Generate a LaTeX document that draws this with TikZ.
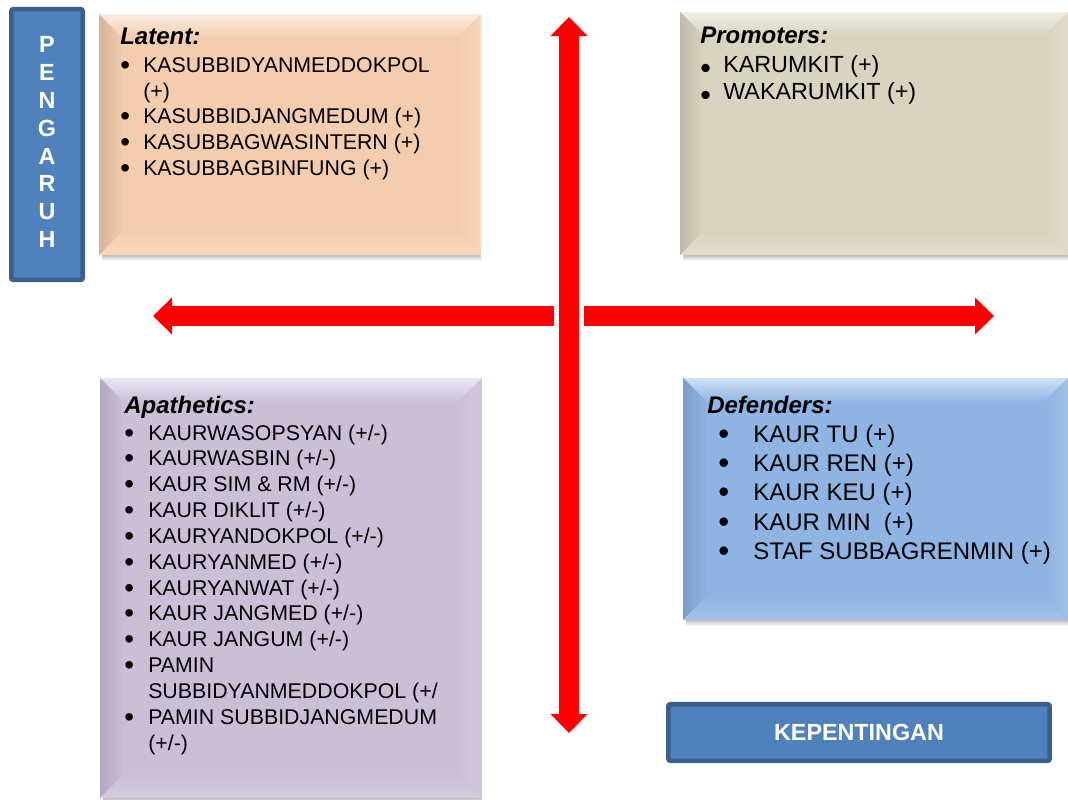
\documentclass[tikz,border=0pt]{standalone}
\usepackage{fontspec}
\usepackage{graphicx}
\setmainfont{Liberation Sans}
\usetikzlibrary{arrows.meta}
\definecolor{hdrblue}{HTML}{4F81BD}
\definecolor{hdrline}{HTML}{3A5F8B}
\definecolor{latentc}{HTML}{F4CDAE}
\definecolor{promoc}{HTML}{D9D4BF}
\definecolor{apathc}{HTML}{CBBFD8}
\definecolor{defendc}{HTML}{8EB4E3}
\def\bev{24}
% bevelled quadrant box: name, x1, y1, x2, y2, colour
\newcommand{\bevelbox}[6]{%
  \shade[top color=black!25,bottom color=white](#2+3,#5)rectangle(#4,#5+6);
  \fill[#6](#2,#3)rectangle(#4,#5);
  \shade[top color=#6!40!white,bottom color=#6](#2,#3)--(#4,#3)--(#4-\bev,#3+\bev)--(#2+\bev,#3+\bev)--cycle;
  \shade[left color=#6!88!black,right color=#6](#2,#3)--(#2+\bev,#3+\bev)--(#2+\bev,#5-\bev)--(#2,#5)--cycle;
  \shade[top color=#6,bottom color=#6!80!white](#2,#5)--(#2+\bev,#5-\bev)--(#4-\bev,#5-\bev)--(#4,#5)--cycle;
  \shade[left color=#6,right color=#6!85!white](#4,#3)--(#4-\bev,#3+\bev)--(#4-\bev,#5-\bev)--(#4,#5)--cycle;
  \coordinate(#1)at(#2,#3);
}
\newcommand{\ttl}[1]{{\fontsize{18}{20}\selectfont\bfseries\itshape #1}}
\newcommand{\bul}{\raisebox{-1.5pt}{\scalebox{1.3}{\textbullet}}}
\newcommand{\itm}[2][0pt]{\hspace*{#1}\makebox[#2][l]{\bul}}
\newcommand{\pitm}{\makebox[17.25pt][l]{\raisebox{-3pt}{\bul}}}
\tikzset{
  bigtip/.tip={Triangle[length=14.25pt,width=27pt]},
  redarrow/.style={draw=red,line width=15pt},
  sidebox/.style={draw=hdrline,fill=hdrblue,line width=3.4pt,rounded corners=1.5pt,
    text=white,inner sep=0pt,font=\fontsize{17.5}{20.9}\selectfont\bfseries},
  listtxt/.style={anchor=base west,inner sep=0pt,font=\fontsize{16}{19.2}\selectfont}
}
\begin{document}
\begin{tikzpicture}[x=0.75pt,y=-0.75pt]
\useasboundingbox(0,0)rectangle(1068,800);
\clip(0,0)rectangle(1068,800);
% quadrants
\bevelbox{latent}{99}{14}{481}{255}{latentc}
\bevelbox{promo}{680}{12}{1068}{255}{promoc}
\bevelbox{apath}{100}{378}{482}{798}{apathc}
\bevelbox{defend}{683}{378}{1068}{620}{defendc}
% axes
\coordinate(vtop)at(569,17);
\coordinate(vbot)at(569,733);
\coordinate(lend)at(554,316);
\coordinate(ltip)at(153,316);
\coordinate(rend)at(584,316);
\coordinate(rtip)at(994,316);
\draw[redarrow,bigtip-bigtip](vtop)--(vbot);
\draw[redarrow,-bigtip](lend)--(ltip);
\draw[redarrow,-bigtip](rend)--(rtip);
% axis labels
\node[sidebox,minimum width=53.6pt,minimum height=203pt](pengaruh)at(47,144.5)
  {\begin{tabular}{@{}c@{}}P\\E\\N\\G\\A\\R\\U\\H\end{tabular}};
\node[sidebox,minimum width=286pt,minimum height=42.4pt](kepentingan)at(859,732.5){KEPENTINGAN};
% lists
\node[listtxt](latenttxt)at(120,44){\begin{tabular}[t]{@{}l@{}}
  \ttl{Latent:}\\[2.3pt]
  \itm{17.25pt}KASUBBIDYANMEDDOKPOL\\
  \hspace*{17.25pt}(+)\\
  \itm{17.25pt}KASUBBIDJANGMEDUM (+)\\
  \itm{17.25pt}KASUBBAGWASINTERN (+)\\
  \itm{17.25pt}KASUBBAGBINFUNG (+)
\end{tabular}};
\node[listtxt,font=\fontsize{17.5}{20.6}\selectfont](promotxt)at(700,43.5){\begin{tabular}[t]{@{}l@{}}
  \ttl{Promoters:}\\[1.1pt]
  \pitm KARUMKIT (+)\\
  \pitm WAKARUMKIT (+)
\end{tabular}};
\node[listtxt,font=\fontsize{16}{19.375}\selectfont](apathtxt)at(124,413){\begin{tabular}[t]{@{}l@{}}
  \ttl{Apathetics:}\\[0.9pt]
  \itm{18pt}KAURWASOPSYAN (+/-)\\
  \itm{18pt}KAURWASBIN (+/-)\\
  \itm{18pt}KAUR SIM \& RM (+/-)\\
  \itm{18pt}KAUR DIKLIT (+/-)\\
  \itm{18pt}KAURYANDOKPOL (+/-)\\
  \itm{18pt}KAURYANMED (+/-)\\
  \itm{18pt}KAURYANWAT (+/-)\\
  \itm{18pt}KAUR JANGMED (+/-)\\
  \itm{18pt}KAUR JANGUM (+/-)\\
  \itm{18pt}PAMIN\\
  \hspace*{18pt}SUBBIDYANMEDDOKPOL (+/\\
  \itm{18pt}PAMIN SUBBIDJANGMEDUM\\
  \hspace*{18pt}(+/-)
\end{tabular}};
\node[listtxt,font=\fontsize{18}{21.94}\selectfont](defendtxt)at(707,413){\begin{tabular}[t]{@{}l@{}}
  \ttl{Defenders:}\\
  \itm[8.25pt]{26.25pt}KAUR TU (+)\\
  \itm[8.25pt]{26.25pt}KAUR REN (+)\\
  \itm[8.25pt]{26.25pt}KAUR KEU (+)\\
  \itm[8.25pt]{26.25pt}KAUR MIN~ (+)\\
  \itm[8.25pt]{26.25pt}STAF SUBBAGRENMIN (+)
\end{tabular}};
\end{tikzpicture}
\end{document}
